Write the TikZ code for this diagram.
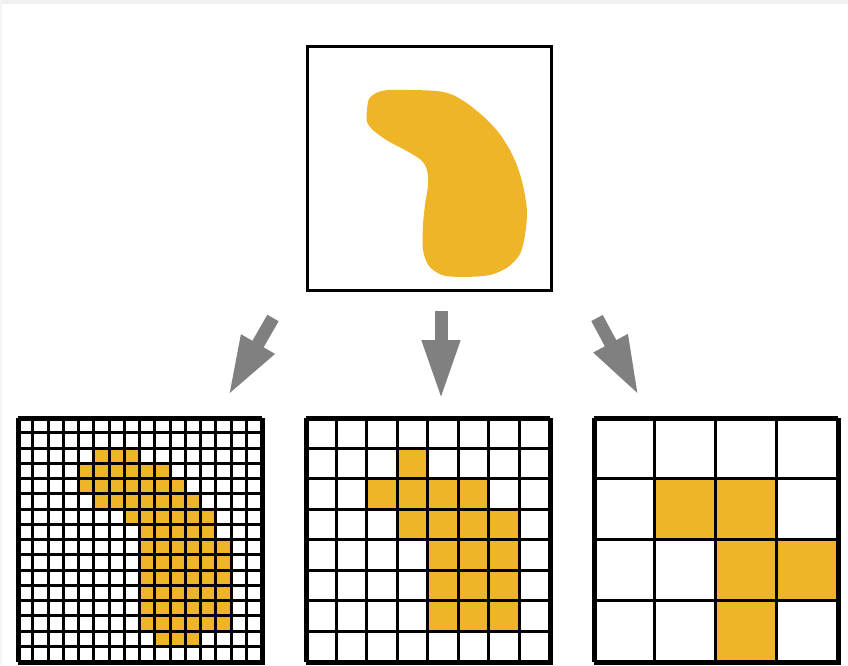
\documentclass[tikz,border=0pt]{standalone}
\usepackage{tikz}
\usetikzlibrary{positioning,arrows.meta}
\definecolor{blobyellow}{RGB}{238,181,41}
\definecolor{arrowgray}{RGB}{128,128,128}

\begin{document}
\begin{tikzpicture}[
x=1pt, y=-1pt,
frame/.style={draw=black, line width=3pt, minimum size=244pt, inner sep=0pt},
gridline/.style={black, line width=3pt},
cell/.style={fill=blobyellow},
fatarrow/.style={arrowgray, line width=13pt, -{Triangle[length=60pt, width=35pt]}}
]
\useasboundingbox (0,0) rectangle (848,665);
\fill[black!6] (0,0) rectangle (848,4);
\fill[black!4] (0,0) rectangle (2,665);

% original shape
\node[frame] (shape) at (429,168) {};
\fill[blobyellow] plot[smooth cycle, tension=0.5] coordinates {
 (367,110) (369,99) (376,93) (388,90) (410,90) (437,91) (453,95) (468,104)
 (484,117) (499,133) (511,152) (519,171) (524,190) (527,212) (525,235)
 (520,254) (508,267) (490,275) (462,277) (442,275) (429,266) (423,250)
 (423,225) (425,205) (428,185) (427,170) (421,160) (405,150) (388,141)
 (374,131) (367,122)};

% three samplings
\node[frame] (fine) at (141,541) {};
\node[frame] (medium) at (429,541) {};
\node[frame] (coarse) at (717,541) {};

% arrows
\coordinate (ltail) at (273,318);
\coordinate (ltip) at (228,396);
\coordinate (mtail) at (441,311);
\coordinate (mtip) at (441,400);
\coordinate (rtail) at (597,318);
\coordinate (rtip) at (639,396);
\draw[fatarrow] (ltail) -- (ltip);
\draw[fatarrow] (mtail) -- (mtip);
\draw[fatarrow] (rtail) -- (rtip);

% 16 x 16
\begin{scope}[shift={(fine.north west)}]
\foreach \r/\a/\b in {2/5/7, 3/4/9, 4/4/10, 5/5/11, 6/7/12, 7/8/12, 8/8/13,
  9/8/13, 10/8/13, 11/8/13, 12/8/13, 13/8/13, 14/9/11}
  \foreach \c in {\a,...,\b}
    \fill[cell] (\c*15.25,\r*15.25) rectangle ++(15.25,15.25);
\foreach \i in {0,...,16} {
  \draw[gridline] (\i*15.25,0) -- (\i*15.25,244);
  \draw[gridline] (0,\i*15.25) -- (244,\i*15.25);
}
\end{scope}

% 8 x 8
\begin{scope}[shift={(medium.north west)}]
\foreach \r/\a/\b in {1/3/3, 2/2/5, 3/3/6, 4/4/6, 5/4/6, 6/4/6}
  \foreach \c in {\a,...,\b}
    \fill[cell] (\c*30.5,\r*30.5) rectangle ++(30.5,30.5);
\foreach \i in {0,...,8} {
  \draw[gridline] (\i*30.5,0) -- (\i*30.5,244);
  \draw[gridline] (0,\i*30.5) -- (244,\i*30.5);
}
\end{scope}

% 4 x 4
\begin{scope}[shift={(coarse.north west)}]
\foreach \r/\a/\b in {1/1/2, 2/2/3, 3/2/2}
  \foreach \c in {\a,...,\b}
    \fill[cell] (\c*61,\r*61) rectangle ++(61,61);
\foreach \i in {0,...,4} {
  \draw[gridline] (\i*61,0) -- (\i*61,244);
  \draw[gridline] (0,\i*61) -- (244,\i*61);
}
\end{scope}
\end{tikzpicture}
\end{document}
